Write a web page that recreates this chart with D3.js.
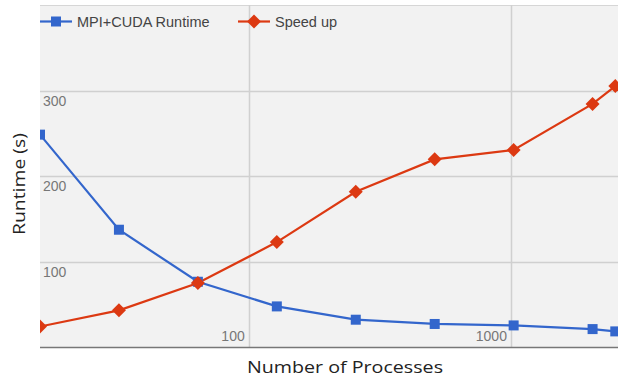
<!DOCTYPE html>
<html><head><meta charset="utf-8">
<script src="https://cdn.jsdelivr.net/npm/d3@7"></script>
<style>body{margin:0;background:#fff}svg{display:block}</style>
</head><body>
<svg id="c" width="618" height="379"></svg>
<script>
const processes = [16, 32, 64, 128, 256, 512, 1024, 2048, 2500];
const runtime = [249, 137.5, 76.5, 47.6, 32, 27, 25.3, 21, 18.3];
const speedup = [24, 43, 75, 123, 182, 220, 231, 285, 306];
const yTicks = [100, 200, 300];
const xTicks = [100, 1000];
const seriesNames = ["MPI+CUDA Runtime", "Speed up"];
const colors = ["#3366cc", "#dc3912"];

const svg = d3.select("#c");
const L = 40, R = 618, T = 5, B = 347;
const x = d3.scaleLog().domain([16, 2560]).range([L, R]);
const y = d3.scaleLinear().domain([0, 401]).range([B, T]);

svg.append("rect").attr("x", L).attr("y", T).attr("width", R - L).attr("height", B - T).attr("fill", "#f2f2f2");
svg.append("line").attr("x1", L).attr("x2", R).attr("y1", T + 0.5).attr("y2", T + 0.5).attr("stroke", "#d6d6d6");

svg.append("clipPath").attr("id", "pc").append("rect")
  .attr("x", L).attr("y", T).attr("width", R - L).attr("height", B - T);

// gridlines
svg.append("g").selectAll("line").data(yTicks).join("line")
  .attr("x1", L).attr("x2", R).attr("y1", d => Math.round(y(d)) + 0.5).attr("y2", d => Math.round(y(d)) + 0.5)
  .attr("stroke", "#d0d0d0").attr("stroke-width", 1.5);
svg.append("g").selectAll("line").data(xTicks).join("line")
  .attr("y1", T).attr("y2", B).attr("x1", d => Math.round(x(d)) + 0.5).attr("x2", d => Math.round(x(d)) + 0.5)
  .attr("stroke", "#d0d0d0").attr("stroke-width", 1.5);

// tick labels
svg.append("g").selectAll("text").data(yTicks).join("text")
  .attr("x", L + 3).attr("y", d => y(d) + 15).text(d => d)
  .attr("font-family", "Arial, 'Liberation Sans', sans-serif").attr("font-size", 14).attr("fill", "#777");
svg.append("g").selectAll("text").data(xTicks).join("text")
  .attr("x", d => x(d) - 4).attr("y", B - 6).attr("text-anchor", "end").text(d => d)
  .attr("font-family", "Arial, 'Liberation Sans', sans-serif").attr("font-size", 14).attr("fill", "#777");

// axis baseline
svg.append("line").attr("x1", L).attr("x2", R).attr("y1", B + 0.5).attr("y2", B + 0.5).attr("stroke", "#777").attr("stroke-width", 1.5);

const g = svg.append("g").attr("clip-path", "url(#pc)");
const line = d3.line().x((d, i) => x(processes[i])).y(d => y(d));
[runtime, speedup].forEach((vals, s) => {
  g.append("path").datum(vals).attr("d", line).attr("fill", "none").attr("stroke", colors[s]).attr("stroke-width", 2.2);
});
g.selectAll(".sq").data(runtime).join("rect")
  .attr("x", (d, i) => x(processes[i]) - 5).attr("y", d => y(d) - 5).attr("width", 10).attr("height", 10).attr("fill", colors[0]);
g.selectAll(".dm").data(speedup).join("path")
  .attr("d", "M0,-7L7,0L0,7L-7,0Z").attr("transform", (d, i) => `translate(${x(processes[i])},${y(d)})`).attr("fill", colors[1]);

// legend
const leg = [{x0: 40, name: seriesNames[0]}, {x0: 238, name: seriesNames[1]}];
leg.forEach((l, s) => {
  const gl = svg.append("g");
  gl.append("line").attr("x1", l.x0).attr("x2", l.x0 + 32).attr("y1", 21.5).attr("y2", 21.5).attr("stroke", colors[s]).attr("stroke-width", 2.2);
  if (s === 0) gl.append("rect").attr("x", l.x0 + 11).attr("y", 16.5).attr("width", 10).attr("height", 10).attr("fill", colors[0]);
  else gl.append("path").attr("d", "M0,-7L7,0L0,7L-7,0Z").attr("transform", `translate(${l.x0 + 16},21.5)`).attr("fill", colors[1]);
  gl.append("text").attr("x", l.x0 + 37).attr("y", 26.5).text(l.name)
    .attr("font-family", "Arial, 'Liberation Sans', sans-serif").attr("font-size", 14.5).attr("fill", "#444");
});

// axis titles
svg.append("text").attr("x", 345).attr("y", 373).attr("text-anchor", "middle").text("Number of Processes")
  .attr("font-family", "'Open Sans', 'Noto Sans', sans-serif").attr("font-size", 16.5).attr("fill", "#222")
  .attr("textLength", 196).attr("lengthAdjust", "spacingAndGlyphs");
svg.append("text").attr("transform", "translate(25,184) rotate(-90)").attr("text-anchor", "middle").text("Runtime (s)")
  .attr("font-family", "'Open Sans', 'Noto Sans', sans-serif").attr("font-size", 16.5).attr("fill", "#222")
  .attr("textLength", 102).attr("lengthAdjust", "spacingAndGlyphs");
</script>
</body></html>
